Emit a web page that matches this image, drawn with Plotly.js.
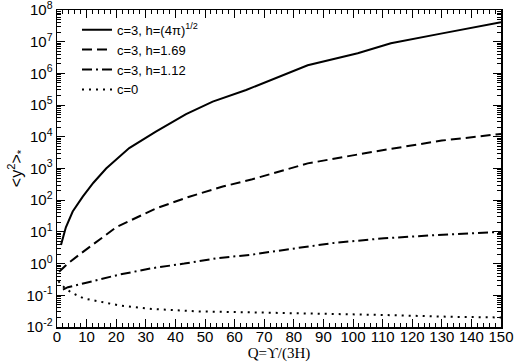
<!DOCTYPE html>
<html>
<head>
<meta charset="utf-8">
<script src="https://cdn.plot.ly/plotly-3.0.1.min.js"></script>
<style>
  html, body { margin: 0; padding: 0; background: #fff; }
  #plot { width: 515px; height: 362px; }
</style>
</head>
<body>
<div id="plot"></div>
<script>
// values
const xSolid = [1.35, 3, 5.3, 8.7, 12.3, 16.6, 24.4, 33.4, 43.6, 52.6, 63.9, 84.7, 101.6, 112.8, 129.7, 150];
const ySolid = [3.9, 14, 44, 130, 355, 1000, 4400, 14500, 52000, 129000, 300000, 1.8e6, 4.3e6, 8.9e6, 1.8e7, 4.1e7];

const xDash = [0.7, 3.6, 8.1, 13.7, 20, 33.4, 44.7, 56, 66, 84.7, 107, 130, 150];
const yDash = [0.55, 1.0, 2.1, 5, 14, 55, 129, 269, 457, 1450, 3400, 7600, 12300];

const xDashDot = [2, 3.7, 9.2, 20.6, 31.8, 43, 54.4, 65.5, 76.7, 93.6, 110.5, 127.4, 150];
const yDashDot = [0.15, 0.18, 0.24, 0.44, 0.71, 1.0, 1.5, 1.9, 2.7, 4.5, 6.3, 7.9, 10];

const xDot = [0.5, 1.3, 3, 5, 9, 13, 17, 21, 32, 48, 65, 88, 110, 133, 150];
const yDot = [0.28, 0.22, 0.16, 0.12, 0.08, 0.068, 0.057, 0.048, 0.037, 0.031, 0.029, 0.027, 0.024, 0.021, 0.020];

const names = ['c=3, h=(4π)<sup>1/2</sup>', 'c=3, h=1.69', 'c=3, h=1.12', 'c=0'];

// y ticks: decades 10^-2 .. 10^8
const exps = [-2, -1, 0, 1, 2, 3, 4, 5, 6, 7, 8];
const yTickVals = exps.map(e => Math.pow(10, e));
const yTickText = exps.map(e => '10<sup>' + e + '</sup>');
const yMinorVals = [];
exps.slice(0, -1).forEach(e => {
    for (let m = 2; m <= 9; m++) yMinorVals.push(m * Math.pow(10, e));
});

function line(x, y, name, dash) {
    return {
        x: x, y: y, name: name,
        type: 'scatter', mode: 'lines',
        line: { color: '#000', width: 2, dash: dash }
    };
}

const traces = [
    line(xSolid, ySolid, names[0], 'solid'),
    line(xDash, yDash, names[1], '10px,5px'),
    line(xDashDot, yDashDot, names[2], '10px,4px,2px,4px'),
    line(xDot, yDot, names[3], '2px,5px')
];

const axisBase = {
    showline: true, linecolor: '#000', linewidth: 1.5, mirror: 'ticks',
    ticks: 'inside', ticklen: 8, tickcolor: '#000', tickwidth: 1,
    showgrid: false, zeroline: false, ticklabeloverflow: 'allow',
    tickfont: { family: 'Liberation Sans, Arial, sans-serif', size: 15, color: '#000' }
};

const layout = {
    width: 515, height: 362,
    margin: { l: 57, r: 14, t: 10, b: 35 },
    paper_bgcolor: '#fff', plot_bgcolor: '#fff',
    showlegend: true,
    legend: {
        x: 0.045, y: 0.985, xanchor: 'left', yanchor: 'top',
        bgcolor: 'rgba(0,0,0,0)',
        font: { family: 'Liberation Sans, Arial, sans-serif', size: 13, color: '#000' },
        tracegroupgap: 0
    },
    xaxis: Object.assign({}, axisBase, {
        range: [0, 150], tickmode: 'linear', tick0: 0, dtick: 10,
        ticklabelstandoff: -5,
        minor: { ticks: 'inside', ticklen: 4, dtick: 2, tickcolor: '#000' },
        title: {
            text: 'Q=ϒ/(3H)', standoff: 7,
            font: { family: 'Liberation Serif, Times New Roman, serif', size: 15, color: '#000' }
        }
    }),
    yaxis: Object.assign({}, axisBase, {
        type: 'log', range: [-2, 8],
        tickmode: 'array', tickvals: yTickVals, ticktext: yTickText,
        minor: { ticks: 'inside', ticklen: 4, tickmode: 'array', tickvals: yMinorVals, tickcolor: '#000' },
        title: {
            text: '&lt;y<sup>2</sup>&gt;<sub>*</sub>', standoff: 0,
            font: { family: 'Liberation Sans, Arial, sans-serif', size: 16, color: '#000' }
        }
    })
};

Plotly.newPlot('plot', traces, layout, { displayModeBar: false, staticPlot: true });
</script>
</body>
</html>
